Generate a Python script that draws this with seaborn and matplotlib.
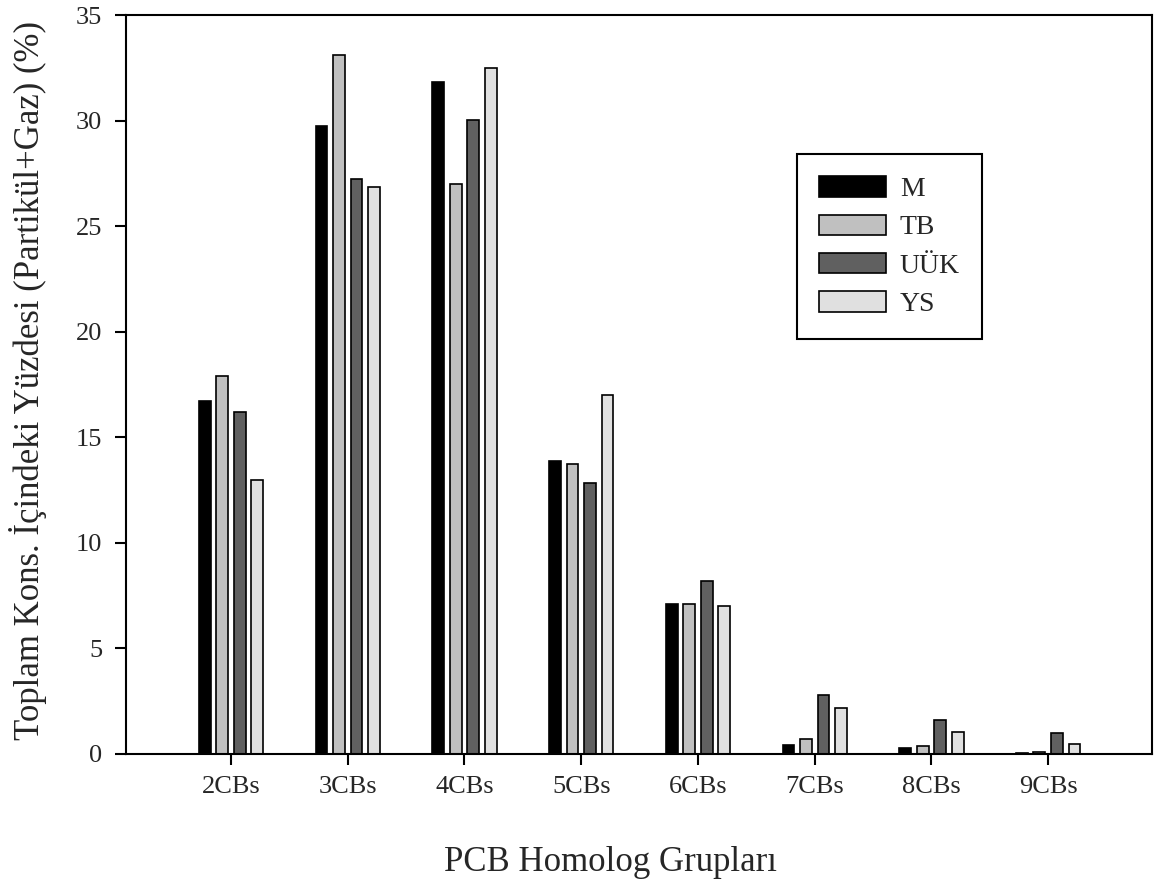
import matplotlib
matplotlib.use("Agg")
import matplotlib.pyplot as plt
import seaborn as sns
import pandas as pd

categories = ["2CBs", "3CBs", "4CBs", "5CBs", "6CBs", "7CBs", "8CBs", "9CBs"]
M = [16.7, 29.75, 31.85, 13.9, 7.1, 0.41, 0.27, 0.06]
TB = [17.9, 33.1, 27.0, 13.75, 7.1, 0.69, 0.36, 0.10]
UUK = [16.2, 27.25, 30.05, 12.85, 8.2, 2.8, 1.59, 0.99]
YS = [13.0, 26.85, 32.5, 17.0, 7.0, 2.19, 1.02, 0.49]
series_names = ["M", "TB", "UÜK", "YS"]
colors = ["#000000", "#c0c0c0", "#606060", "#e0e0e0"]

rows = []
for name, vals in zip(series_names, [M, TB, UUK, YS]):
    for c, v in zip(categories, vals):
        rows.append({"cat": c, "series": name, "value": v})
df = pd.DataFrame(rows)

sns.set_style("ticks")
plt.rcParams['font.family'] = ['Liberation Serif', 'DejaVu Serif']

fig = plt.figure(figsize=(11.71, 8.85), dpi=100)
ax = fig.add_axes([126/1171, 131/885, 1026/1171, 739/885])

sns.barplot(data=df, x="cat", y="value", hue="series", order=categories,
            hue_order=series_names, palette=colors, width=0.6, gap=0.33,
            edgecolor="black", linewidth=1.2, errorbar=None, ax=ax)

ax.set_xlim(-0.9, 7.89)
ax.set_ylim(0, 35)
ax.set_yticks(range(0, 36, 5))
for s in ax.spines.values():
    s.set_visible(True)
    s.set_color("black")
    s.set_linewidth(1.5)
ax.tick_params(axis="both", labelsize=19, direction="out", length=8, width=1.5, color="black")
ax.tick_params(axis="x", pad=8)
ax.tick_params(axis="y", pad=9)
ax.set_xlabel("PCB Homolog Grupları", fontsize=25)
ax.set_ylabel("Toplam Kons. İçindeki Yüzdesi (Partikül+Gaz) (%)", fontsize=25)
ax.xaxis.set_label_coords(0.472, -0.125)
ax.yaxis.set_label_coords(-0.077, 0.506)

leg = ax.legend(loc="upper left", bbox_to_anchor=(0.654, 0.812), borderaxespad=0,
                fontsize=20, frameon=True, fancybox=False, framealpha=1,
                handlelength=2.4, handleheight=0.75, labelspacing=0.45,
                borderpad=0.8, handletextpad=0.5, title=None)
leg.get_frame().set_edgecolor("black")
leg.get_frame().set_linewidth(1.5)

fig.savefig("out.png", dpi=100)
